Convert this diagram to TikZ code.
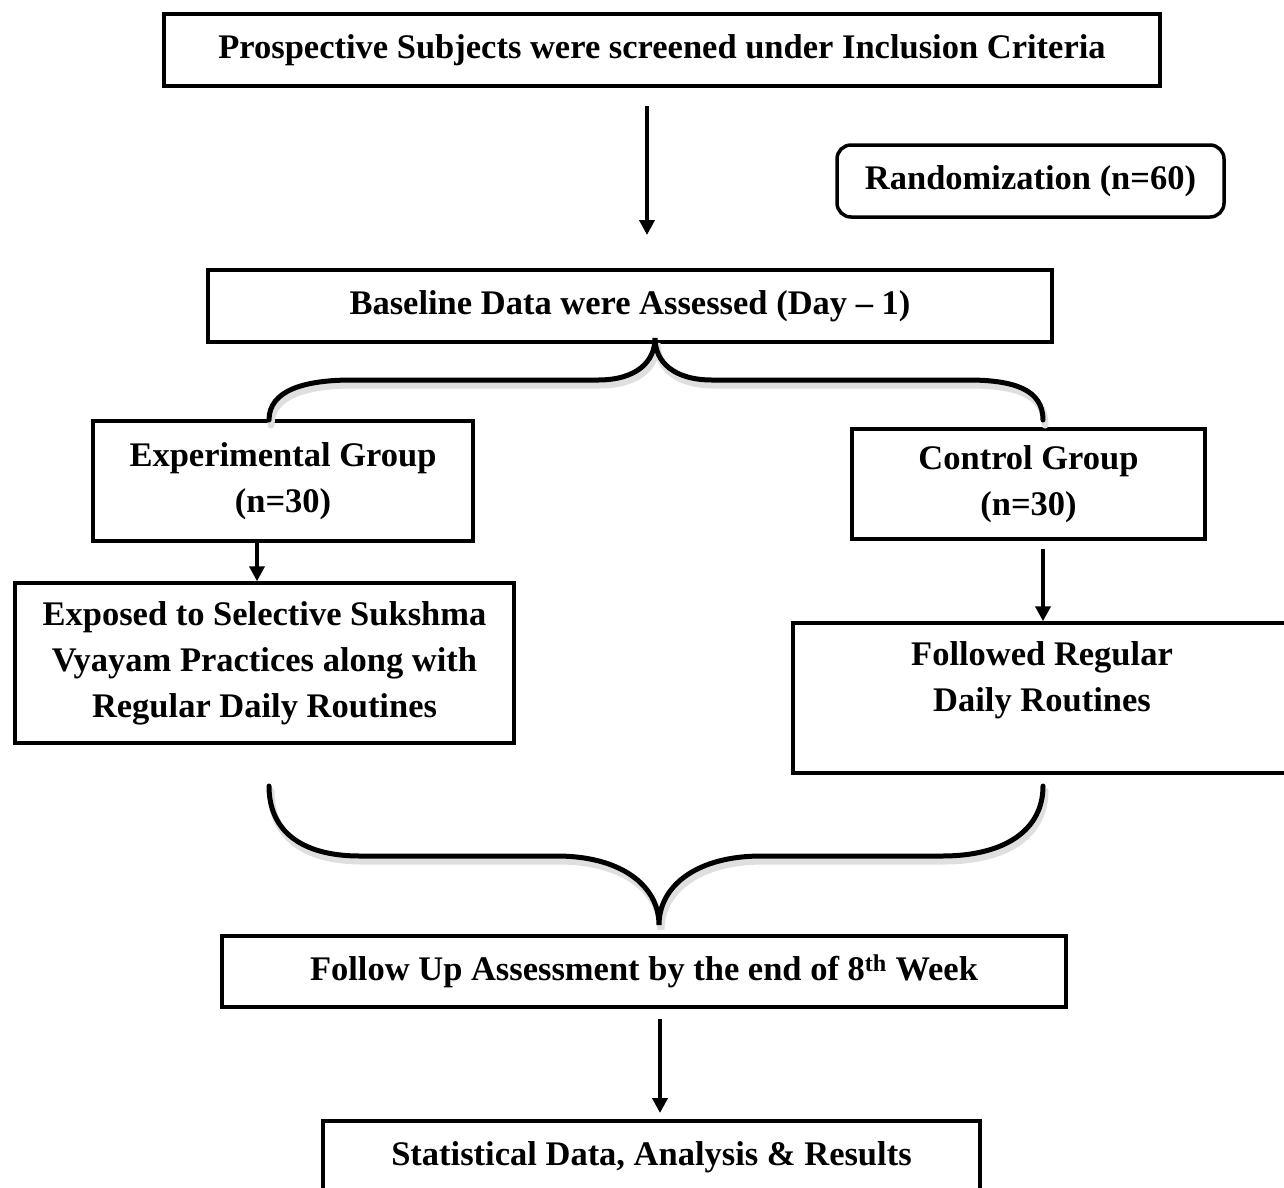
\documentclass[tikz,border=0pt]{standalone}
\usepackage{fontspec}
\setmainfont{Liberation Serif}
\usetikzlibrary{arrows.meta}
\begin{document}
\begin{tikzpicture}[x=1pt,y=-1pt,
  box/.style={draw, line width=3.5pt, inner sep=0pt, align=center,
    font=\fontsize{34.5}{46}\selectfont\bfseries},
  txt/.style={inner sep=0pt, align=center, font=\fontsize{34.5}{46}\selectfont\bfseries},
  arr/.style={line width=4pt, -{Triangle[length=15pt,width=15pt]}},
  bracepath/.style={line width=5pt, line cap=round},
  braceshadow/.style={line width=7pt, line cap=round, draw=gray!25}]
\path[use as bounding box] (0,0) rectangle (1284,1187);
\clip (0,0) rectangle (1284,1187);

% boxes
\node[box, minimum width=996pt, minimum height=72pt] (top) at (662,50)
  {Prospective Subjects were screened under Inclusion Criteria};
\node[box, rounded corners=14pt, minimum width=387pt, minimum height=72pt] (rand) at (1030.5,181)
  {Randomization (n=60)};
\node[box, minimum width=844pt, minimum height=72pt] (base) at (630,306)
  {Baseline Data were Assessed (Day -- 1)};
\node[box, minimum width=380pt, minimum height=120pt] (exp) at (283,481)
  {Experimental Group\\(n=30)};
\node[box, minimum width=353pt, minimum height=110pt] (ctrl) at (1028.5,484)
  {Control Group\\(n=30)};
\node[box, minimum width=499pt, minimum height=160pt] (expo) at (264.5,663)
  {Exposed to Selective Sukshma\\Vyayam Practices along with\\Regular Daily Routines};
\node[box, minimum width=507pt, minimum height=150pt] (foll) at (1046.5,698) {};
\node[txt] (folltxt) at (1042,680) {Followed Regular\\Daily Routines};
\node[box, minimum width=844pt, minimum height=71pt] (fup) at (644,971.5)
  {Follow Up Assessment by the end of 8\textsuperscript{th} Week};
\node[box, minimum width=657pt, minimum height=72pt] (stat) at (651.5,1157)
  {Statistical Data, Analysis \& Results};

% arrows
\coordinate (a1s) at (647,106);
\coordinate (a1e) at (647,235);
\draw[arr] (a1s) -- (a1e);
\coordinate (a2) at (257,0);
\draw[arr] (exp.south -| a2) -- (expo.north -| a2);
\coordinate (a3s) at (1043,549);
\draw[arr] (a3s) -- (foll.north -| a3s);
\coordinate (a4s) at (660,1019);
\coordinate (a4e) at (660,1113);
\draw[arr] (a4s) -- (a4e);

% top brace
\def\topbrace{(269,420) .. controls (269,390) and (305,380) .. (352,380)
  -- (598,380) .. controls (636,380) and (655,362) .. (655,338)
  .. controls (655,362) and (674,380) .. (712,380)
  -- (968,380) .. controls (1015,380) and (1043,390) .. (1043,420)}
\draw[braceshadow, shift={(2,5)}] \topbrace;
\draw[bracepath] \topbrace;

% bottom brace
\def\botbrace{(269,786) .. controls (269,830) and (300,856) .. (360,856)
  -- (557,856) .. controls (620,856) and (659,885) .. (659,925)
  .. controls (659,885) and (698,856) .. (761,856)
  -- (942,856) .. controls (1005,856) and (1043,830) .. (1043,786)}
\draw[braceshadow, shift={(2,5)}] \botbrace;
\draw[bracepath] \botbrace;
\end{tikzpicture}
\end{document}
